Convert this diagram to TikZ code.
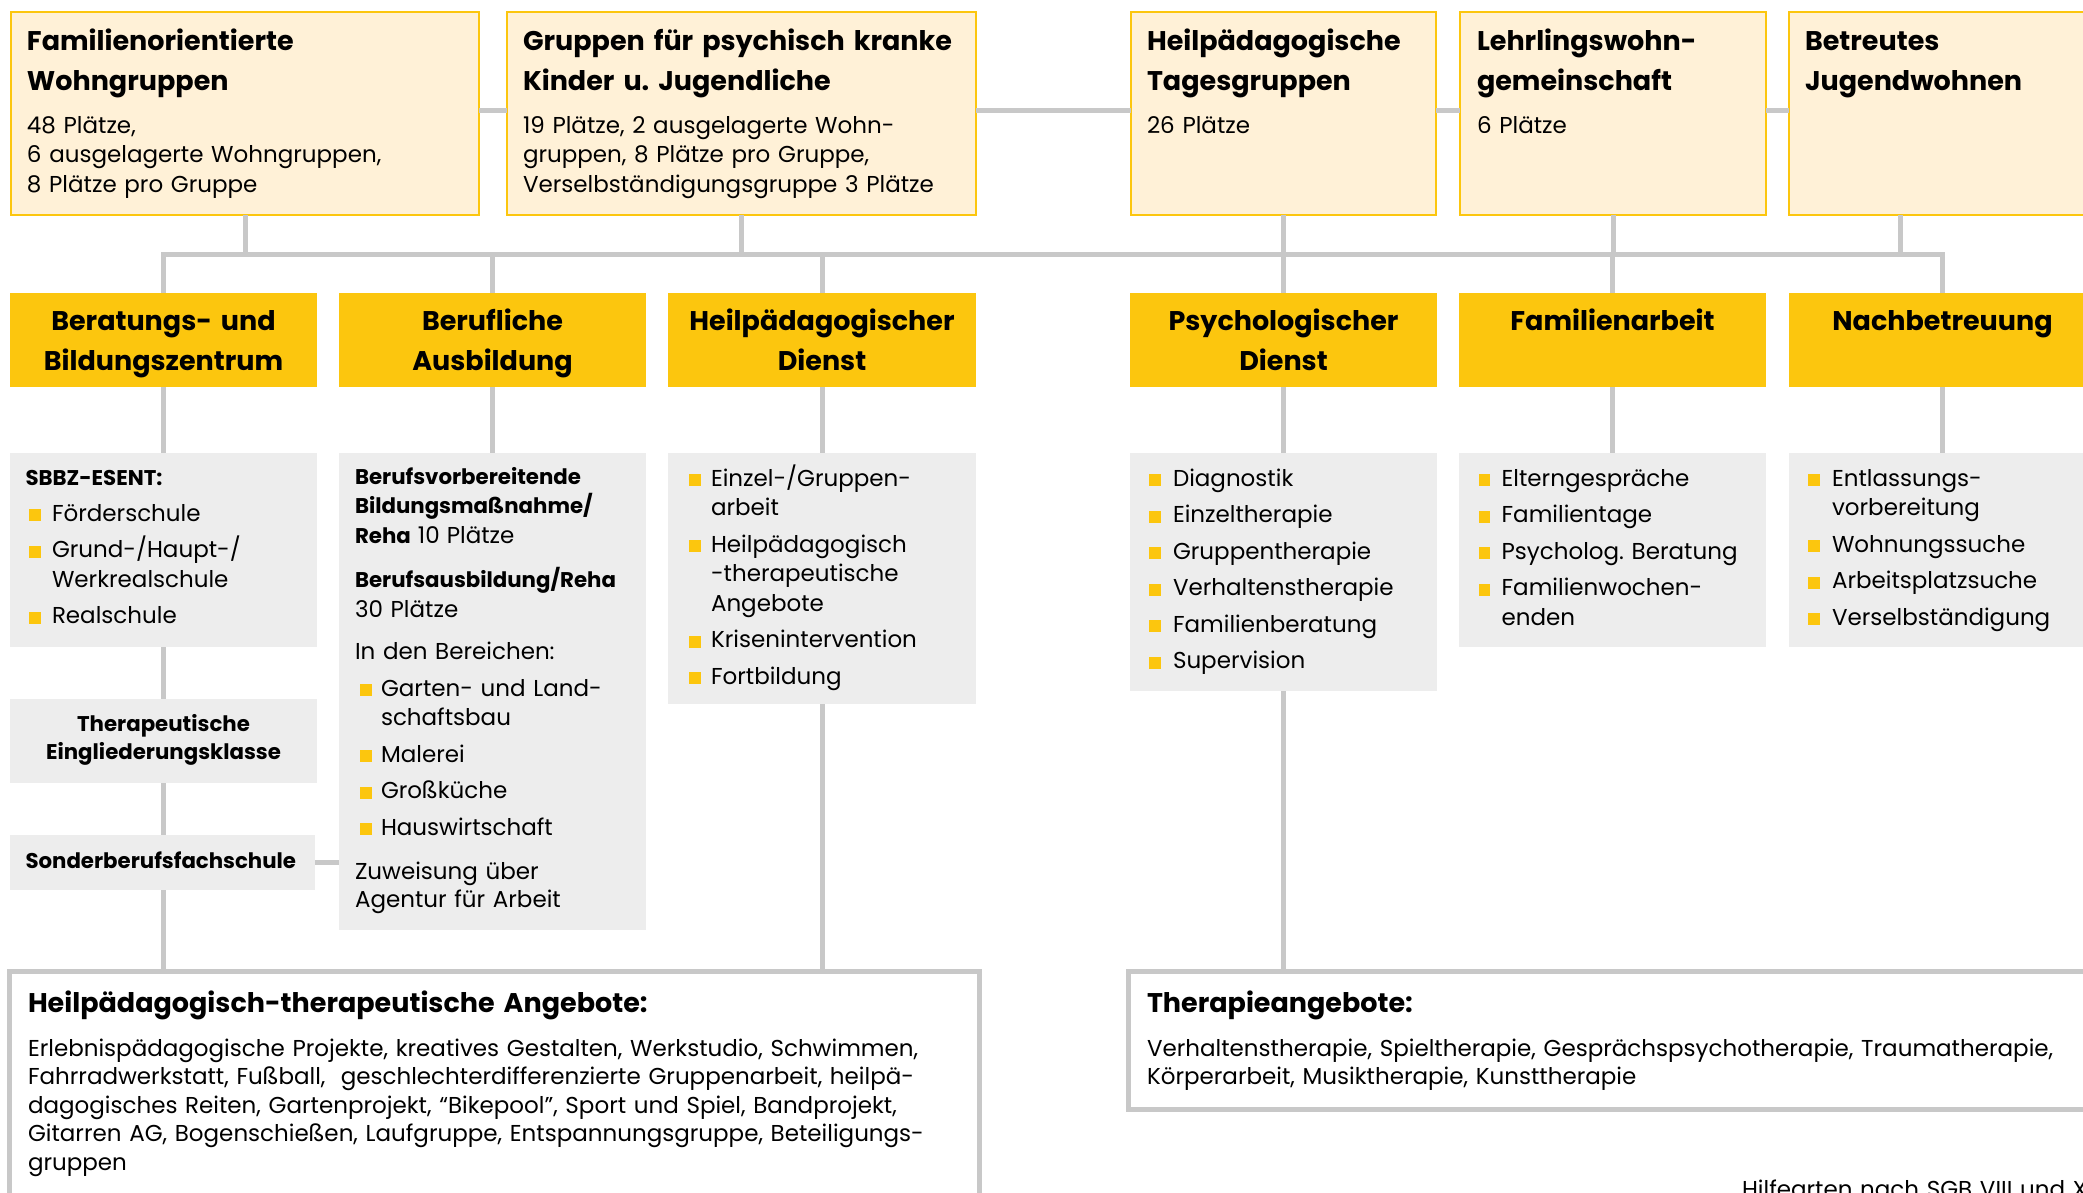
\documentclass[tikz,border=0pt]{standalone}
\usepackage{fontspec}
\setmainfont{Poppins}
\frenchspacing
\definecolor{yel}{HTML}{FCC60E}
\definecolor{cream}{HTML}{FFF1D7}
\definecolor{gbox}{HTML}{EDEDED}
\definecolor{lgrey}{HTML}{C8C8C8}
\newlength\bulw
\setlength\bulw{23pt}
\newcommand\bulsq{\textcolor{yel}{\rule{11.5pt}{12pt}}}
\newcommand\lf[1]{\hangindent=\bulw\hangafter=1\noindent\makebox[\bulw][l]{\bulsq}#1}
\newcommand\li[1]{\par\vspace{7pt}\lf{#1}}
\tikzset{
  conn/.style={draw=lgrey, line width=5pt},
  box/.style={anchor=north west, inner sep=0pt, outer sep=0pt},
  creambox/.style={box, draw=yel, line width=2.5pt, fill=cream},
  yelbox/.style={box, fill=yel},
  greybox/.style={box, fill=gbox},
  framebox/.style={box, draw=lgrey, line width=5pt, fill=white},
  txt/.style={anchor=base west, inner sep=0pt, outer sep=0pt, text width=#1, align=left},
  txt/.default=460pt,
  lst/.style={anchor=base west, inner sep=0pt, outer sep=0pt, text width=300pt, font=\fontsize{23}{29.5}\selectfont},
  ctxt/.style={anchor=base, inner sep=0pt, outer sep=0pt, text width=300pt, align=center},
  ttl/.style={font=\fontsize{27}{40}\selectfont\bfseries},
  bod/.style={font=\fontsize{23}{29.5}\selectfont},
  sbold/.style={font=\fontsize{21.3}{29.5}\selectfont\bfseries},
}
\begin{document}
\begin{tikzpicture}[x=1pt,y=-1pt]
\useasboundingbox (0,0) rectangle (2083,1192);
\clip (0,0) rectangle (2083,1192);
% top row
\node[creambox, minimum width=468pt, minimum height=203pt] (t1) at (11,12) {};
\node[creambox, minimum width=469pt, minimum height=203pt] (t2) at (507,12) {};
\node[creambox, minimum width=305pt, minimum height=203pt] (t3) at (1131,12) {};
\node[creambox, minimum width=306pt, minimum height=203pt] (t4) at (1460,12) {};
\node[creambox, minimum width=320pt, minimum height=203pt] (t5) at (1789,12) {};
\node[txt, ttl] (t1a) at (27,50) {Familienorientierte\\Wohngruppen};
\node[txt, bod] (t1b) at (27,133) {48 Plätze,\\6 ausgelagerte Wohngruppen,\\8 Plätze pro Gruppe};
\node[txt, ttl] (t2a) at (523,50) {Gruppen für psychisch kranke\\Kinder u. Jugendliche};
\node[txt, bod] (t2b) at (523,133) {19 Plätze, 2 ausgelagerte Wohn-\\gruppen, 8 Plätze pro Gruppe,\\Verselbständigungsgruppe 3 Plätze};
\node[txt, ttl] (t3a) at (1147,50) {Heilpädagogische\\Tagesgruppen};
\node[txt, bod] (t3b) at (1147,133) {26 Plätze};
\node[txt, ttl] (t4a) at (1477,50) {Lehrlingswohn-\\gemeinschaft};
\node[txt, bod] (t4b) at (1477,133) {6 Plätze};
\node[txt, ttl] (t5a) at (1805,50) {Betreutes\\Jugendwohnen};
% yellow row
\node[yelbox, minimum width=307pt, minimum height=94pt] (y1) at (10,293) {};
\node[yelbox, minimum width=307pt, minimum height=94pt] (y2) at (339,293) {};
\node[yelbox, minimum width=308pt, minimum height=94pt] (y3) at (668,293) {};
\node[yelbox, minimum width=307pt, minimum height=94pt] (y4) at (1130,293) {};
\node[yelbox, minimum width=307pt, minimum height=94pt] (y5) at (1459,293) {};
\node[yelbox, minimum width=307pt, minimum height=94pt] (y6) at (1789,293) {};
\node[ctxt, ttl] (y1t) at (y1.center |- 0,330) {Beratungs- und\\Bildungszentrum};
\node[ctxt, ttl] (y2t) at (y2.center |- 0,330) {Berufliche\\Ausbildung};
\node[ctxt, ttl] (y3t) at (y3.center |- 0,330) {Heilpädagogischer\\Dienst};
\node[ctxt, ttl] (y4t) at (y4.center |- 0,330) {Psychologischer\\Dienst};
\node[ctxt, ttl] (y5t) at (y5.center |- 0,330) {Familienarbeit};
\node[ctxt, ttl] (y6t) at (y6.center |- 0,330) {Nachbetreuung};
% grey row
\node[greybox, minimum width=307pt, minimum height=194pt] (g1) at (10,453) {};
\node[greybox, minimum width=307pt, minimum height=477pt] (g2) at (339,453) {};
\node[greybox, minimum width=308pt, minimum height=251pt] (g3) at (668,453) {};
\node[greybox, minimum width=307pt, minimum height=238pt] (g4) at (1130,453) {};
\node[greybox, minimum width=307pt, minimum height=194pt] (g5) at (1459,453) {};
\node[greybox, minimum width=307pt, minimum height=194pt] (g6) at (1789,453) {};
\node[greybox, minimum width=307pt, minimum height=84pt] (tek) at (10,699) {};
\node[greybox, minimum width=305pt, minimum height=55pt] (sbf) at (10,835) {};
% grey texts
\node[txt, sbold] (g1h) at (25.5,485) {SBBZ-ESENT:};
\node[lst] (g1l) at (29,521) {\lf{Förderschule}\li{Grund-/Haupt-/\newline Werkrealschule}\li{Realschule}\par};
\node[txt, sbold] (g2h) at (355,484) {Berufsvorbereitende\\Bildungsmaßnahme/\\Reha {\mdseries\fontsize{23}{29.5}\selectfont 10 Plätze}};
\node[txt, bod] (g2i) at (355,587.6) {{\fontsize{21.3}{29.5}\selectfont\bfseries Berufsausbildung/Reha}\\30 Plätze};
\node[txt, bod] (g2j) at (355,659.6) {In den Bereichen:};
\node[lst] (g2l) at (360,696) {\setlength\bulw{21pt}\lf{Garten- und Land-\newline schaftsbau}\li{Malerei}\li{Großküche}\li{Hauswirtschaft}\par};
\node[txt, font=\fontsize{23}{28}\selectfont] (g2k) at (355,879) {Zuweisung über\\Agentur für Arbeit};
\node[lst] (g3l) at (689,486) {\setlength\bulw{22pt}\lf{Einzel-/Gruppen-\newline arbeit}\li{Heilpädagogisch\newline -therapeutische\newline Angebote}\li{Krisenintervention}\li{Fortbildung}\par};
\node[lst] (g4l) at (1149,486) {\setlength\bulw{24pt}\lf{Diagnostik}\li{Einzeltherapie}\li{Gruppentherapie}\li{Verhaltenstherapie}\li{Familienberatung}\li{Supervision}\par};
\node[lst] (g5l) at (1478.6,486) {\lf{Elterngespräche}\li{Familientage}\li{Psycholog. Beratung}\li{Familienwochen-\newline enden}\par};
\node[lst] (g6l) at (1808,486) {\setlength\bulw{24pt}\lf{Entlassungs-\newline vorbereitung}\li{Wohnungssuche}\li{Arbeitsplatzsuche}\li{Verselbständigung}\par};
\node[ctxt, font=\fontsize{21.3}{28}\selectfont\bfseries] (tekt) at (tek.center |- 0,731.5) {Therapeutische\\Eingliederungsklasse};
\node[txt, sbold] (sbft) at (25.5,868) {Sonderberufsfachschule};
% bottom boxes
\node[framebox, minimum width=969.5pt, minimum height=300pt] (b1) at (9.6,971.5) {};
\node[framebox, minimum width=1000pt, minimum height=138pt] (b2) at (1128.5,971.5) {};
\node[txt=940pt, ttl] (b1h) at (28,1012) {Heilpädagogisch-therapeutische Angebote:};
\node[txt=940pt, font=\fontsize{23}{28.5}\selectfont] (b1t) at (28,1056) {Erlebnispädagogische Projekte, kreatives Gestalten, Werkstudio, Schwimmen,\\Fahrradwerkstatt, Fußball,\ \ geschlechterdifferenzierte Gruppenarbeit, heilpä-\\dagogisches Reiten, Gartenprojekt, “Bikepool”, Sport und Spiel, Bandprojekt,\\Gitarren AG, Bogenschießen, Laufgruppe, Entspannungsgruppe, Beteiligungs-\\gruppen};
\node[txt=900pt, ttl] (b2h) at (1147,1012) {Therapieangebote:};
\node[txt=940pt, font=\fontsize{23}{28.5}\selectfont] (b2t) at (1147,1056) {Verhaltenstherapie, Spieltherapie, Gesprächspsychotherapie, Traumatherapie,\\Körperarbeit, Musiktherapie, Kunsttherapie};
\node[txt, bod] (foot) at (1742,1197) {Hilfearten nach SGB VIII und X};
% connectors
\coordinate (bus) at (0,254);
\draw[conn] ([yshift=3pt]t1.east) -- ([yshift=3pt]t2.west);
\draw[conn] ([yshift=3pt]t2.east) -- ([yshift=3pt]t3.west);
\draw[conn] ([yshift=3pt]t3.east) -- ([yshift=3pt]t4.west);
\draw[conn] ([yshift=3pt]t4.east) -- ([yshift=3pt]t5.west);
\draw[conn] (t1.south) -- (t1.south |- bus);
\draw[conn] (t2.south) -- (t2.south |- bus);
\draw[conn] (t3.south) -- (t3.south |- bus);
\draw[conn] (t4.south) -- (t4.south |- bus);
\coordinate (t5d) at ([xshift=111pt]t5.south west);
\draw[conn] (t5d) -- (t5d |- bus);
\draw[conn] (y1.north) -- (y1.north |- bus) -- (y6.north |- bus) -- (y6.north);
\draw[conn] (y2.north) -- (y2.north |- bus);
\draw[conn] (y3.north) -- (y3.north |- bus);
\draw[conn] (y4.north) -- (y4.north |- bus);
\draw[conn] (y5.north) -- (y5.north |- bus);
\draw[conn] (y1.south) -- (g1.north);
\draw[conn] (y2.south) -- (g2.north);
\draw[conn] (y3.south) -- (g3.north);
\draw[conn] (y4.south) -- (g4.north);
\draw[conn] (y5.south) -- (g5.north);
\draw[conn] (y6.south) -- (g6.north);
\draw[conn] (g1.south) -- (tek.north);
\draw[conn] (tek.south) -- (tek.south |- sbf.north);
\draw[conn] (tek.south |- sbf.south) -- (tek.south |- b1.north);
\draw[conn] (sbf.east) -- (sbf.east -| g2.west);
\draw[conn] (g3.south) -- (g3.south |- b1.north);
\draw[conn] (g4.south) -- (g4.south |- b2.north);
\end{tikzpicture}
\end{document}
